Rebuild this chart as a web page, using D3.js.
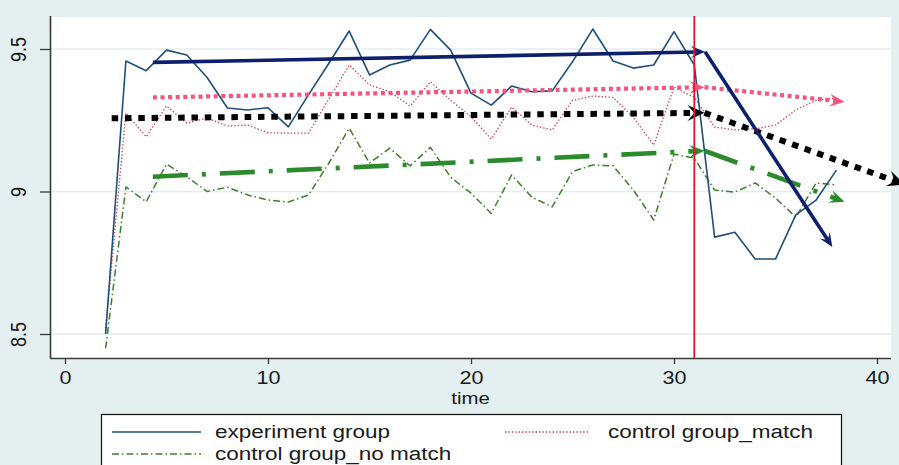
<!DOCTYPE html>
<html><head><meta charset="utf-8">
<script src="https://cdn.jsdelivr.net/npm/d3@7"></script>
<style>html,body{margin:0;padding:0;background:#e3eff0;} svg{display:block}</style>
</head><body><svg id="c" width="899" height="465"></svg>
<script>
// ---------------- data ----------------
const times = [2,3,4,5,6,7,8,9,10,11,12,13,14,15,16,17,18,19,20,21,22,23,24,25,26,27,28,29,30,31,32,33,34,35,36,37,38];
const experiment = [8.50,9.458,9.424,9.496,9.479,9.40,9.293,9.286,9.294,9.227,9.34,9.45,9.563,9.409,9.444,9.461,9.569,9.496,9.345,9.303,9.37,9.35,9.353,9.455,9.57,9.458,9.433,9.444,9.561,9.444,8.84,8.857,8.763,8.763,8.918,8.97,9.075];
const controlMatch = [8.52,9.275,9.192,9.30,9.24,9.258,9.23,9.233,9.206,9.205,9.205,9.325,9.444,9.374,9.35,9.30,9.385,9.32,9.262,9.184,9.296,9.233,9.216,9.32,9.335,9.33,9.26,9.163,9.366,9.33,9.226,9.216,9.22,9.233,9.286,9.32,9.328];
const controlNoMatch = [8.45,9.016,8.964,9.096,9.052,9.0,9.015,8.988,8.97,8.963,8.988,9.10,9.222,9.10,9.152,9.09,9.155,9.05,8.994,8.923,9.058,8.98,8.946,9.07,9.093,9.09,9.005,8.90,9.131,9.117,9.005,8.998,9.03,8.977,8.91,9.03,9.023];
// trend arrows: [t1, v1, t2, v2]
const navyArrows  = [[4.33,9.453,31.53,9.49],[31.53,9.49,37.8,8.805]];
const pinkArrows  = [[4.33,9.33,31.5,9.366],[31.5,9.366,38.4,9.315]];
const blackArrows = [[2.3,9.257,31.5,9.276],[31.5,9.276,41.35,9.025]];
const greenArrows = [[4.33,9.052,31.5,9.143],[31.5,9.143,38.4,8.964]];
const eventTime = 31;
const xTicks = [0,10,20,30,40];
const yTicks = [8.5,9,9.5];
const legendLabels = ["experiment group","control group_match","control group_no match"];
const xTitle = "time";

// ---------------- drawing ----------------
const svg = d3.select("#c");
const W = 899, H = 465;
const plot = {l:50, r:891, t:16, b:358};
const x = d3.scaleLinear().domain([0,40]).range([65,877]);
const y = d3.scaleLinear().domain([8.5,9.5]).range([334,49]);
const FONT = "'Liberation Sans', Arial, sans-serif";
const SX = 1.2;

svg.append("rect").attr("width",W).attr("height",H).attr("fill","#e3eff0");
svg.append("rect").attr("x",plot.l).attr("y",plot.t).attr("width",plot.r-plot.l).attr("height",plot.b-plot.t).attr("fill","#ffffff");
svg.append("line").attr("x1",plot.l).attr("x2",plot.r).attr("y1",plot.t+0.5).attr("y2",plot.t+0.5).attr("stroke","#e4edf2").attr("stroke-width",1.5);

// grid
svg.append("g").selectAll("line").data(yTicks).join("line")
  .attr("x1",plot.l).attr("x2",plot.r).attr("y1",d=>y(d)).attr("y2",d=>y(d))
  .attr("stroke","#e4edf2").attr("stroke-width",1.6);

// axes
const xAxis = svg.append("g").attr("transform",`translate(0,${plot.b})`)
  .call(d3.axisBottom(x).tickValues(xTicks).tickSize(6).tickPadding(0).tickSizeOuter(0));
xAxis.select(".domain").attr("d",`M${plot.l},0.5H${plot.r}`).attr("stroke","#3a3a3a").attr("stroke-width",1.6);
xAxis.selectAll(".tick line").attr("stroke","#3a3a3a").attr("stroke-width",1.3);
xAxis.selectAll(".tick text").attr("y",0).attr("dy",0)
  .attr("transform",`translate(0,26) scale(${SX},1)`)
  .attr("font-family",FONT).attr("font-size",18).attr("fill","#1a1a1a");

const yAxis = svg.append("g").attr("transform",`translate(${plot.l},0)`)
  .call(d3.axisLeft(y).tickValues(yTicks).tickSize(10).tickSizeOuter(0).tickFormat(d3.format("")));
yAxis.select(".domain").attr("d",`M0.5,${plot.t}V${plot.b}`).attr("stroke","#3a3a3a").attr("stroke-width",1.6);
yAxis.selectAll(".tick line").attr("stroke","#3a3a3a").attr("stroke-width",1.3);
yAxis.selectAll(".tick text").attr("x",0).attr("dy",0).attr("text-anchor","middle")
  .attr("transform",`translate(-24,0) scale(${SX},1) rotate(-90)`)
  .attr("font-family",FONT).attr("font-size",18).attr("fill","#1a1a1a");

svg.append("text").attr("transform",`translate(${(plot.l+plot.r)/2},404) scale(${SX},1)`)
  .attr("text-anchor","middle").attr("font-family",FONT).attr("font-size",17).attr("fill","#1a1a1a").text(xTitle);

// thin series
const line = d3.line().x((d,i)=>x(times[i])).y(d=>y(d));
const thin = [
  {v:controlNoMatch, c:"#3f7f2a", w:1.5, dash:"7 3 1.5 3"},
  {v:controlMatch, c:"#cf3d4a", w:1.3, dash:"1.4 2"},
  {v:experiment, c:"#1f4f7a", w:1.6, dash:null}
];
thin.forEach(s=>{
  svg.append("path").attr("d",line(s.v)).attr("fill","none").attr("stroke",s.c)
    .attr("stroke-width",s.w).attr("stroke-dasharray",s.dash).attr("stroke-linejoin","round");
});

// arrows
function drawArrow(a, color, width, dash, L, Wd){
  const x1=x(a[0]), y1=y(a[1]), x2=x(a[2]), y2=y(a[3]);
  const ang=Math.atan2(y2-y1,x2-x1), c=Math.cos(ang), s=Math.sin(ang);
  const nx=x2-0.6*L*c, ny=y2-0.6*L*s;
  svg.append("line").attr("x1",x1).attr("y1",y1).attr("x2",nx).attr("y2",ny)
    .attr("stroke",color).attr("stroke-width",width).attr("stroke-dasharray",dash);
  const bx=x2-L*c, by=y2-L*s;
  const p=[[x2,y2],[bx+Wd*s,by-Wd*c],[nx,ny],[bx-Wd*s,by+Wd*c]];
  svg.append("path").attr("d","M"+p.map(q=>q.join(",")).join("L")+"Z").attr("fill",color);
}
greenArrows.forEach(a=>drawArrow(a,"#2b8a2b",4.6,"35 14 4 14",15,6.5));
pinkArrows.forEach(a=>drawArrow(a,"#f2567f",4.2,"4 3.6",15,6.5));
blackArrows.forEach(a=>drawArrow(a,"#000000",6,"6.5 6.8",17,8));
navyArrows.forEach(a=>drawArrow(a,"#0e1f6c",3.6,null,14,6));

// event line
svg.append("line").attr("x1",x(eventTime)).attr("x2",x(eventTime)).attr("y1",plot.t).attr("y2",plot.b)
  .attr("stroke","#e8142c").attr("stroke-width",1.8);

// legend
const LSX = 1.25;
svg.append("rect").attr("x",101.5).attr("y",414.5).attr("width",740).attr("height",80)
  .attr("fill","#ffffff").attr("stroke","#111").attr("stroke-width",1.2);
const leg = [
  {lx1:112,lx2:201,ly:432,tx:215,ty:438,c:"#1f4f7a",w:1.6,dash:null,t:legendLabels[0]},
  {lx1:505,lx2:590,ly:432,tx:608,ty:438,c:"#cf3d4a",w:1.3,dash:"1.4 2",t:legendLabels[1]},
  {lx1:112,lx2:201,ly:454,tx:215,ty:460,c:"#3f7f2a",w:1.5,dash:"7 3 1.5 3",t:legendLabels[2]}
];
leg.forEach(g=>{
  svg.append("line").attr("x1",g.lx1).attr("x2",g.lx2).attr("y1",g.ly).attr("y2",g.ly)
    .attr("stroke",g.c).attr("stroke-width",g.w).attr("stroke-dasharray",g.dash);
  svg.append("text").attr("transform",`translate(${g.tx},${g.ty}) scale(${LSX},1)`)
    .attr("font-family",FONT).attr("font-size",18).attr("fill","#1a1a1a").text(g.t);
});
</script></body></html>
